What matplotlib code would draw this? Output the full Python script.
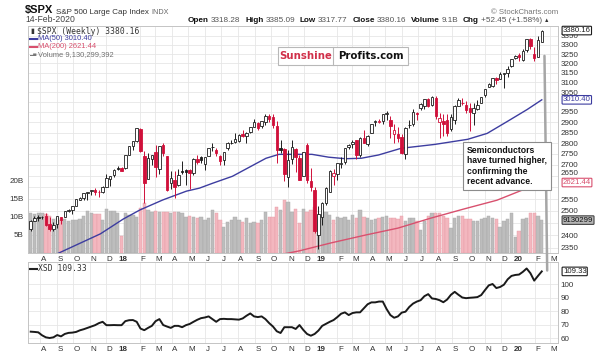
import numpy as np
import pandas as pd
import matplotlib
matplotlib.use('Agg')
import matplotlib.pyplot as plt
import matplotlib.dates as mdates
from matplotlib.transforms import blended_transform_factory
from matplotlib.patches import ConnectionPatch, Rectangle
from matplotlib.lines import Line2D

plt.rcParams['font.family'] = ['Liberation Sans', 'DejaVu Sans']

# weekly bars, Fridays 14-Jul-2017 .. 14-Feb-2020
weeks = pd.date_range('2017-07-14', '2020-02-14', freq='W-FRI')

spx_open = [
    2424, 2459, 2473, 2475, 2478, 2444, 2425, 2444, 2474, 2474, 2501, 2503, 2521, 2547, 2555, 2578, 2583, 2588, 2580, 2580,
    2603, 2638, 2656, 2685, 2684,
    2684, 2745, 2785, 2809, 2867, 2741, 2638, 2725, 2757, 2681, 2790, 2741, 2619, 2633, 2611, 2673, 2675, 2675, 2665, 2728,
    2735, 2705, 2742, 2781, 2766, 2742, 2723, 2776, 2799, 2804, 2812, 2844, 2835, 2853, 2877, 2897, 2880, 2903, 2929, 2926,
    2881, 2775, 2773, 2644, 2726, 2773, 2730, 2650, 2790, 2630, 2591, 2401,
    2476, 2535, 2580, 2651, 2657, 2703, 2712, 2780, 2798, 2813, 2747, 2823, 2797, 2848, 2900, 2900, 2906, 2940, 2909, 2841,
    2841, 2830, 2751, 2885, 2889, 2946, 2971, 2979, 3017, 2985, 3019, 2899, 2908, 2911, 2866, 2910, 2981, 2996, 2983, 2968,
    2944, 2965, 2996, 3035, 3078, 3081, 3123, 3117, 3143, 3147, 3183, 3227,
    3247, 3217, 3271, 3333, 3248, 3236, 3318.28]
spx_high = [
    2463, 2477, 2484, 2478, 2490, 2474, 2456, 2480, 2475, 2500, 2508, 2520, 2552, 2557, 2575, 2582, 2588, 2597, 2590, 2605,
    2658, 2652, 2680, 2695, 2692,
    2743, 2787, 2810, 2873, 2870, 2763, 2754, 2747, 2790, 2787, 2802, 2742, 2671, 2672, 2680, 2718, 2683, 2682, 2732, 2743,
    2742, 2736, 2779, 2801, 2775, 2743, 2760, 2804, 2816, 2848, 2841, 2863, 2855, 2877, 2916, 2900, 2906, 2941, 2940, 2939,
    2905, 2817, 2779, 2766, 2815, 2775, 2747, 2760, 2800, 2685, 2601, 2520,
    2538, 2604, 2675, 2681, 2708, 2737, 2776, 2794, 2814, 2816, 2831, 2860, 2836, 2893, 2910, 2917, 2940, 2954, 2931, 2892,
    2876, 2841, 2876, 2911, 2964, 2952, 2996, 3014, 3018, 3028, 3028, 2944, 2942, 2939, 2940, 2985, 3021, 3022, 3002, 2993,
    2993, 3008, 3027, 3067, 3097, 3120, 3127, 3154, 3150, 3183, 3225, 3247,
    3258, 3275, 3330, 3338, 3287, 3347, 3385.09]
spx_low = [
    2418, 2457, 2459, 2465, 2437, 2417, 2417, 2428, 2447, 2474, 2497, 2488, 2520, 2545, 2547, 2544, 2566, 2566, 2557, 2576,
    2600, 2605, 2647, 2676, 2673,
    2682, 2743, 2769, 2803, 2759, 2533, 2638, 2699, 2647, 2661, 2741, 2585, 2594, 2553, 2605, 2660, 2612, 2594, 2655, 2702,
    2707, 2676, 2740, 2764, 2742, 2698, 2699, 2770, 2795, 2800, 2803, 2830, 2802, 2848, 2877, 2864, 2874, 2886, 2903, 2874,
    2710, 2755, 2628, 2603, 2703, 2670, 2631, 2649, 2621, 2583, 2409, 2346,
    2443, 2524, 2580, 2612, 2631, 2688, 2705, 2771, 2775, 2728, 2734, 2800, 2785, 2848, 2881, 2896, 2891, 2911, 2825, 2801,
    2806, 2750, 2728, 2873, 2882, 2909, 2962, 2966, 2973, 2978, 2914, 2822, 2834, 2834, 2856, 2891, 2981, 2985, 2946, 2856,
    2884, 2962, 2992, 3023, 3075, 3078, 3091, 3115, 3070, 3125, 3180, 3223,
    3212, 3215, 3263, 3280, 3214, 3236, 3317.77]
spx_close = [
    2459, 2472, 2472, 2476, 2441, 2425, 2443, 2477, 2461, 2500, 2502, 2519, 2549, 2553, 2575, 2581, 2587, 2582, 2579, 2602,
    2642, 2652, 2676, 2683, 2674,
    2743, 2786, 2810, 2873, 2762, 2620, 2732, 2747, 2691, 2786, 2752, 2588, 2640, 2604, 2656, 2670, 2670, 2663, 2728, 2713,
    2721, 2735, 2779, 2780, 2755, 2718, 2760, 2801, 2802, 2819, 2840, 2833, 2850, 2875, 2902, 2872, 2905, 2930, 2914, 2886,
    2767, 2768, 2659, 2723, 2781, 2736, 2633, 2760, 2633, 2600, 2417, 2486,
    2532, 2596, 2671, 2665, 2707, 2708, 2776, 2793, 2804, 2743, 2822, 2800, 2834, 2893, 2907, 2905, 2940, 2946, 2881, 2860,
    2826, 2752, 2873, 2887, 2950, 2942, 2990, 3014, 2977, 3026, 2932, 2919, 2889, 2847, 2926, 2979, 3007, 2992, 2962, 2952,
    2970, 2986, 3023, 3067, 3093, 3120, 3110, 3141, 3146, 3169, 3221, 3240,
    3235, 3265, 3330, 3295, 3226, 3328, 3380.16]
# weekly volume, billions
spx_volume = [
    11, 10.7, 11, 11, 10.7, 10.2, 9.4, 9.7, 9.2, 9.4, 9.0, 9.2, 9.2, 9.4, 10.2, 11.6, 11, 10.7, 10.7, 9.2,
    12.2, 11.6, 11.6, 11, 4.8,
    11, 10.5, 10.5, 10, 12.5, 14, 12, 11.5, 11.6, 11.4, 11.5, 11.5, 11, 11.5, 11.3, 11, 10, 10.2, 9.9, 9.7,
    9.9, 9.1, 9.6, 11.9, 11, 9.1, 7.2, 8.6, 9.1, 10, 9.1, 8.6, 9.6, 8.2, 8.6, 8.2, 9.1, 11.4, 10, 10,
    12.8, 11.9, 14.6, 14.2, 11.4, 12.3, 8.2, 12.3, 11.4, 11.9, 12.8, 9.1,
    10, 11.4, 10.5, 9.1, 10, 9.6, 10, 9.1, 10.5, 9.6, 11.9, 10, 9.6, 9.1, 9.5, 9.8, 10.1, 10.4, 9.8, 9.8,
    9.4, 10.4, 8.8, 9.8, 9.8, 8.8, 6.3, 8.8, 10.4, 11, 11.1, 11, 10.4, 9.8, 7, 9.8, 10.4, 10.4, 9.4, 9.4,
    8.8, 8.8, 9.4, 9.8, 10.4, 9.8, 9.4, 7.1, 8.8, 9.4, 11, 4.4,
    6, 9.4, 9.8, 11, 11.1, 10.4, 9.13]
xsd_close = [
    64.7, 64.5, 64.2, 62, 60.5, 60, 60.5, 62.2, 61.2, 63, 63.8, 64, 64.5, 65.7, 66.5, 67.5, 68.5, 69.5, 71, 72,
    69.5, 69.5, 69.6, 69.5, 69.5,
    72.5, 73.2, 73.3, 72, 67, 65.8, 67.5, 69, 72.5, 74, 69.6, 68.5, 67.5, 69, 69, 68, 69.5, 70.4, 72, 73.5,
    74.7, 75.2, 76, 74, 72, 74, 74.2, 74, 74, 73.8, 73.6, 74.5, 76.5, 78.2, 76, 75.5, 76, 74, 71, 68.5,
    65, 63.7, 68, 68, 68, 66.7, 69.6, 66, 63, 61.7, 63, 65.5,
    69, 70.5, 72, 73.3, 75.5, 78, 79, 77, 78.5, 79, 79, 82, 85, 86.4, 86.4, 87, 87, 81.5, 77, 75,
    76, 78.8, 79.5, 83, 85.5, 87, 88, 91, 92.5, 89.3, 88.9, 88, 86.5, 88.5, 92, 94.2, 92, 90, 89.5, 89.8,
    90, 90.3, 91.8, 95.5, 99, 100, 97, 97.8, 99.5, 103.5, 106, 106.7,
    107, 109, 111.5, 108, 102.5, 106, 109.33]

ma50_dates = ['2017-09-02', '2017-11-20', '2018-01-01', '2018-02-01', '2018-03-15', '2018-04-28', '2018-05-22',
              '2018-06-15', '2018-07-22', '2018-09-22', '2018-10-16', '2018-11-22', '2018-12-16', '2019-01-16',
              '2019-02-16', '2019-03-17', '2019-04-18', '2019-05-30', '2019-07-31', '2019-09-30', '2019-11-05',
              '2019-12-12', '2020-01-18', '2020-02-14']
ma50_values = [2328, 2406, 2466, 2504, 2546, 2584, 2597, 2618, 2649, 2730, 2748, 2748, 2748, 2735,
               2728, 2730, 2745, 2776, 2794, 2818, 2846, 2903, 2962, 3010.40]
ma200_dates = ['2018-10-29', '2018-11-22', '2019-01-21', '2019-03-25', '2019-05-24', '2019-07-24',
               '2019-09-23', '2019-11-23', '2020-01-18', '2020-02-14']
ma200_values = [2328, 2338, 2370, 2401, 2429, 2470, 2508, 2545, 2597, 2621.44]

W, H = 600, 360
def fx(p):
    return p / W
def fy(p):
    return 1 - p / H

RED = '#d0103a'
DARK = '#1e1e1e'
BLUE = '#3d3da0'
MARED = '#d8506e'
GRID = '#e6e6e6'

fig = plt.figure(figsize=(6, 3.6), dpi=100)
ax = fig.add_axes([fx(28), fy(253), fx(558) - fx(28), (253 - 26) / H])
ax2 = fig.add_axes([fx(28), fy(343), fx(558) - fx(28), (343 - 262) / H], sharex=ax)
axv = ax.twinx()

x = mdates.date2num(weeks)
o = np.array(spx_open); h = np.array(spx_high); l = np.array(spx_low); c = np.array(spx_close)
vol = np.array(spx_volume)

prev = np.r_[o[0], c[:-1]]
col = np.where(c >= prev, DARK, RED)
vcol = np.where(c >= prev, '#bdbdbd', '#f3b7bf')
vedge = np.where(c >= prev, '#a8a8a8', '#e59ba6')

# price panel
ax.set_yscale('log')
ax.set_ylim(2330, 3406)
ax.set_xlim(mdates.date2num(pd.Timestamp('2017-07-09')), mdates.date2num(pd.Timestamp('2020-03-15')))

vmax = 63.0
trans = blended_transform_factory(ax.transData, ax.transAxes)
ax.bar(x, vol / vmax, width=6.2, bottom=0, color=vcol, edgecolor=vedge, lw=0.3,
       transform=trans, zorder=1)

ax.plot(mdates.date2num(pd.to_datetime(ma200_dates)), ma200_values, color=MARED, lw=1.0, zorder=2)
ax.plot(mdates.date2num(pd.to_datetime(ma50_dates)), ma50_values, color=BLUE, lw=1.0, zorder=2)

ax.vlines(x, l, h, colors=col, lw=0.7, zorder=3)
ax.bar(x, np.abs(c - o), bottom=np.minimum(o, c), width=4.6,
       color=np.where(c > o, 'white', col), edgecolor=col, lw=0.6, zorder=4)

ax.yaxis.tick_right()
yt = np.arange(2350, 3351, 50)
# labels hidden behind the value tags are left blank; 2650 is drawn a touch higher
hidden = {2450, 2600, 2650, 3000}
ax.set_yticks(yt, ['' if v in hidden else f'{v:.0f}' for v in yt])
ax.yaxis.set_minor_locator(matplotlib.ticker.NullLocator())
ax.annotate('2650', xy=(1, 2650), xycoords=('axes fraction', 'data'), xytext=(2, 2.2),
            textcoords='offset points', va='center', ha='left', fontsize=5.8, color='#333333',
            annotation_clip=False)

month_starts = pd.date_range('2017-08-01', '2020-03-01', freq='MS')
lab_pos = [d + pd.Timedelta(days=0 if d.month == 1 else 6) for d in month_starts]
labs = [f'{d.year % 100}' if d.month == 1 else 'JFMAMJJASOND'[d.month - 1] for d in month_starts]
ax.set_xticks(mdates.date2num(lab_pos), labs)
ax.set_xticks(mdates.date2num(month_starts), minor=True)

for a in (ax, ax2):
    a.set_axisbelow(True)
    a.grid(True, which='minor', axis='x', color=GRID, lw=0.6)
    a.grid(True, which='major', axis='y', color=GRID, lw=0.6)
    a.tick_params(which='both', length=0, labelsize=5.8, colors='#333333', pad=2)
    for s in a.spines.values():
        s.set_color('#c4c4c4'); s.set_linewidth(0.7)
    for t in a.get_xticklabels():
        if t.get_text().isdigit():
            t.set_fontweight('bold')

# volume scale on the left
axv.set_ylim(0, vmax)
axv.set_yticks([5, 10, 15, 20], ['5B', '10B', '15B', '20B'])
axv.yaxis.tick_left()
axv.tick_params(length=0, labelsize=5.8, colors='#333333', pad=3)
for s in axv.spines.values():
    s.set_visible(False)

# XSD panel
ax2.plot(x, xsd_close, color='#1a1a1a', lw=1.4)
ax2.set_ylim(56.3, 116.3)
ax2.yaxis.tick_right()
ax2.set_yticks([60, 70, 80, 90, 100])

def tag(a, xy, txt, ec, tc, fc='white', coords=('axes fraction', 'data')):
    a.annotate(txt, xy=xy, xycoords=coords, xytext=(3.5, 0), textcoords='offset points',
               va='center', ha='left', fontsize=5.6, color=tc, annotation_clip=False, zorder=10,
               bbox=dict(boxstyle='round,pad=0.1', fc=fc, ec=ec, lw=0.8))

tag(ax, (1, spx_close[-1]), f'{spx_close[-1]:.2f}', DARK, DARK)
tag(ax, (1, ma50_values[-1]), f'{ma50_values[-1]:.2f}', BLUE, BLUE)
tag(ax, (1, ma200_values[-1]), f'{ma200_values[-1]:.2f}', MARED, MARED)
tag(ax, (1, spx_volume[-1] / vmax), '9130299', '#444444', '#111111', fc='#b5b5b5', coords='axes fraction')
tag(ax2, (1, xsd_close[-1]), f'{xsd_close[-1]:.2f}', DARK, DARK)

# header
rend = fig.canvas.get_renderer()
def text_row(x0, y0, parts):
    xp = x0
    for s, gap, kw in parts:
        t = fig.text(fx(xp), fy(y0), s, va='baseline', ha='left', **kw)
        xp += t.get_window_extent(rend).width + gap

text_row(25, 13.5, [('$SPX', 3, dict(fontsize=8, fontweight='bold', color='#111111')),
                    ('S&P 500 Large Cap Index', 2.5, dict(fontsize=5.8, color='#333333')),
                    ('INDX', 0, dict(fontsize=5.2, color='#666666'))])
fig.text(fx(25), fy(22), '14-Feb-2020', va='baseline', fontsize=6.2, color='#444444')
bold = dict(fontsize=5.9, fontweight='bold', color='#111111')
norm = dict(fontsize=5.9, color='#555555')
text_row(188, 22, [('Open', 2.2, bold), ('3318.28', 4.5, norm), ('High', 2.2, bold), ('3385.09', 4.5, norm),
                   ('Low', 2.2, bold), ('3317.77', 4.5, norm), ('Close', 2.2, bold), ('3380.16', 4.5, norm),
                   ('Volume', 2.2, bold), ('9.1B', 4.5, norm), ('Chg', 2.2, bold), ('+52.45 (+1.58%)', 2, norm),
                   ('▲', 0, dict(fontsize=4.0, color='#333333'))])
fig.text(fx(558), fy(14), '© StockCharts.com', ha='right', va='baseline', fontsize=5.6, color='#777777')

# legends
fig.text(fx(30), fy(31), '▮', fontsize=5, color='#333333', va='center')
fig.text(fx(37), fy(31), '$SPX (Weekly) 3380.16', family='DejaVu Sans Mono', fontsize=5.8,
         color='#333333', va='center')
for yy, cc, s in [(39, BLUE, 'MA(50) 3010.40'), (47, MARED, 'MA(200) 2621.44')]:
    fig.add_artist(Line2D([fx(30), fx(36.5)], [fy(yy), fy(yy)], color=cc, lw=1.5))
    fig.text(fx(37.5), fy(yy), s, fontsize=5.4, color=cc, va='center')
fig.text(fx(30), fy(54.5), '▂▅', family='DejaVu Sans', fontsize=3.0, color='#777777', va='center')
fig.text(fx(38.5), fy(54.5), 'Volume 9,130,299,392', fontsize=5.4, color='#707070', va='center')

fig.add_artist(Line2D([fx(30), fx(36.5)], [fy(268.5), fy(268.5)], color='#222222', lw=1.5))
fig.text(fx(38), fy(268.5), 'XSD 109.33', family='DejaVu Sans Mono', fontsize=5.8, color='#333333', va='center')

# watermark box
fig.add_artist(Rectangle((fx(278), fy(65)), fx(408) - fx(278), 18 / H, transform=fig.transFigure,
                         fc='white', ec='#b8b8b8', lw=0.8, zorder=5))
fig.add_artist(Line2D([fx(333), fx(333)], [fy(65), fy(47)], color='#b8b8b8', lw=0.8, zorder=6))
fig.text(fx(305.5), fy(56), 'Sunshine', ha='center', va='center', fontsize=7.3, fontweight='bold',
         family='DejaVu Sans', color='#d0304a', zorder=7)
fig.text(fx(370.5), fy(56), 'Profits.com', ha='center', va='center', fontsize=7.3, fontweight='bold',
         family='DejaVu Sans', color='#111111', zorder=7)

# callout
con = ConnectionPatch(xyA=(x[-1] + 5, 3240), coordsA='data', axesA=ax,
                      xyB=(x[-1] + 10, 110), coordsB='data', axesB=ax2,
                      color='#a6a6a6', lw=1.8, zorder=8)
fig.add_artist(con)
fig.text(fx(467), fy(146), 'Semiconductors\nhave turned higher,\nconfirming the\nrecent advance.',
         ha='left', va='top', fontsize=6.2, fontweight='bold', color='#111111', linespacing=1.2, zorder=9,
         bbox=dict(boxstyle='square,pad=0.45', fc='white', ec='#8c8c8c', lw=0.8))

fig.savefig('out.png', dpi=100)
